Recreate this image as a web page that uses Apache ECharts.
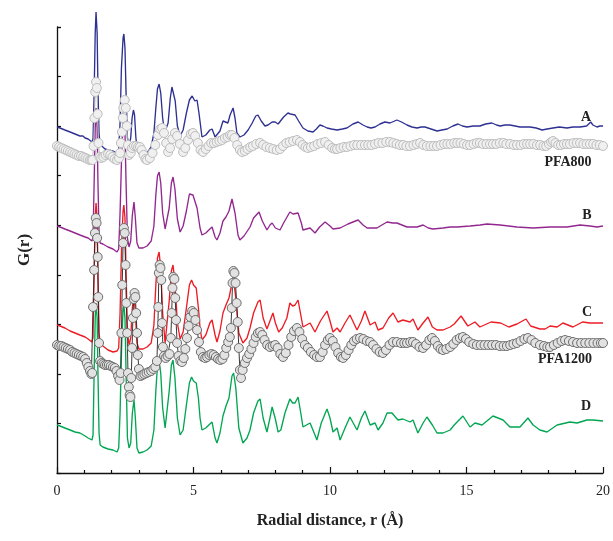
<!DOCTYPE html>
<html>
<head>
<meta charset="utf-8">
<script src="https://cdn.jsdelivr.net/npm/echarts@6/dist/echarts.min.js"></script>
<style>html,body{margin:0;padding:0;background:#fff}#c{width:613px;height:541px}</style>
</head>
<body>
<div id="c"></div>
<script>
// x tick labels
const xTicks = [0, 5, 10, 15, 20];
// Curve labels
const labelNames = ['A', 'PFA800', 'B', 'C', 'PFA1200', 'D'];

// G(r) curves (stacked, arbitrary offset units), pairs [r (Å), G]
const curveA = [[0,346],[0.11,345],[0.29,343],[0.48,341],[0.66,339],[0.84,337],[0.95,337],[1.03,335],[1.14,334],[1.21,332],[1.28,331],[1.32,334],[1.36,380],[1.40,440],[1.43,461],[1.47,440],[1.50,385],[1.54,340],[1.58,328],[1.68,326],[1.76,324],[1.87,323],[1.94,321],[2.05,322],[2.12,321],[2.20,320],[2.26,324],[2.31,350],[2.36,405],[2.42,435],[2.45,439],[2.49,425],[2.53,380],[2.58,335],[2.64,328],[2.70,335],[2.75,355],[2.80,363],[2.84,358],[2.89,335],[2.95,322],[3.04,318],[3.15,318],[3.30,320],[3.45,326],[3.55,340],[3.62,365],[3.68,384],[3.74,389],[3.80,380],[3.87,355],[3.94,340],[3.99,338],[4.07,350],[4.15,375],[4.21,386],[4.26,387],[4.33,372],[4.41,347],[4.51,337],[4.62,343],[4.74,360],[4.85,373],[4.95,377],[5.05,372],[5.13,373],[5.20,360],[5.31,336],[5.45,338],[5.60,343],[5.68,344],[5.79,336],[5.86,335],[5.97,342],[6.08,352],[6.15,353],[6.26,350],[6.34,358],[6.45,365],[6.52,355],[6.59,340],[6.70,336],[6.85,338],[7.00,343],[7.15,350],[7.28,357],[7.36,358],[7.48,352],[7.62,347],[7.73,348],[7.88,351],[7.99,351],[8.10,349],[8.17,350],[8.30,356],[8.46,360],[8.55,359],[8.72,358],[8.85,352],[9.01,345],[9.19,342],[9.38,341],[9.50,344],[9.63,348],[9.74,347],[9.89,345],[10.05,344],[10.26,343],[10.45,344],[10.62,345],[10.84,349],[11.03,351],[11.21,348],[11.36,346],[11.50,345],[11.65,346],[11.83,349],[12.01,351],[12.20,350],[12.45,353],[12.62,351],[12.82,348],[13.00,346],[13.19,345],[13.34,346],[13.48,346],[13.70,344],[13.92,342],[14.10,343],[14.29,344],[14.50,347],[14.69,349],[14.85,347],[15.02,346],[15.25,347],[15.49,347],[15.70,349],[15.93,350],[16.10,348],[16.23,347],[16.41,348],[16.59,348],[16.78,347],[16.96,346],[17.15,346],[17.33,346],[17.55,345],[17.77,343],[17.95,344],[18.17,345],[18.40,346],[18.68,345],[18.90,346],[19.16,346],[19.40,347],[19.55,351],[19.63,348],[19.78,346],[19.89,347],[20.00,347]];

const curveB = [[0,247],[0.11,246],[0.29,244],[0.48,242],[0.66,240],[0.84,238],[1.03,236],[1.14,235],[1.21,233],[1.28,232],[1.32,236],[1.36,290],[1.40,345],[1.43,365],[1.47,345],[1.50,290],[1.54,240],[1.58,230],[1.68,229],[1.87,226],[1.94,225],[2.05,224],[2.20,221],[2.26,224],[2.31,260],[2.37,320],[2.42,350],[2.45,355],[2.49,340],[2.53,290],[2.58,235],[2.64,226],[2.70,232],[2.76,258],[2.82,271],[2.87,255],[2.93,230],[3.00,225],[3.15,225],[3.30,227],[3.45,232],[3.55,247],[3.62,278],[3.68,297],[3.74,301],[3.80,290],[3.87,260],[3.96,244],[4.03,244],[4.11,265],[4.19,290],[4.25,296],[4.32,284],[4.41,254],[4.51,241],[4.62,247],[4.74,262],[4.85,279],[4.91,281],[4.98,278],[5.05,276],[5.13,265],[5.24,245],[5.31,238],[5.45,240],[5.60,244],[5.68,246],[5.79,236],[5.86,233],[5.97,240],[6.08,252],[6.19,256],[6.30,262],[6.41,274],[6.45,274],[6.52,260],[6.63,238],[6.70,233],[6.85,237],[7.07,246],[7.20,255],[7.40,261],[7.52,252],[7.69,243],[7.80,248],[7.88,250],[8.00,245],[8.17,243],[8.30,250],[8.53,261],[8.65,259],[8.83,260],[8.95,250],[9.01,243],[9.27,245],[9.45,240],[9.62,246],[9.82,251],[10.00,247],[10.11,244],[10.37,245],[10.66,249],[10.84,251],[11.03,253],[11.21,248],[11.36,245],[11.72,245],[11.90,248],[12.09,251],[12.30,250],[12.45,250],[12.82,246],[13.19,246],[13.41,248],[13.60,245],[13.77,244],[14.14,245],[14.40,246],[14.65,246],[15.13,247],[15.50,248],[15.75,249],[16.23,248],[16.85,246],[17.44,245],[18.06,246],[18.68,246],[19.16,248],[19.52,247],[19.78,246],[20.00,247]];

const curveC = [[0,148],[0.11,147],[0.29,145],[0.48,142],[0.66,140],[0.84,138],[1.03,136],[1.14,134],[1.21,133],[1.28,131],[1.32,136],[1.36,200],[1.40,255],[1.43,270],[1.47,255],[1.50,200],[1.54,140],[1.58,130],[1.68,127],[1.87,123],[2.05,121],[2.12,121],[2.20,122],[2.26,125],[2.31,160],[2.37,230],[2.42,262],[2.45,268],[2.49,255],[2.53,200],[2.58,140],[2.64,128],[2.70,135],[2.76,165],[2.82,178],[2.87,160],[2.93,130],[3.00,124],[3.15,124],[3.30,126],[3.45,130],[3.55,148],[3.62,188],[3.68,215],[3.74,221],[3.80,205],[3.87,160],[3.96,130],[4.03,128],[4.11,172],[4.19,202],[4.25,208],[4.32,190],[4.41,150],[4.51,134],[4.62,141],[4.74,165],[4.85,188],[4.93,193],[5.00,188],[5.10,185],[5.18,165],[5.24,145],[5.31,133],[5.45,138],[5.60,150],[5.68,153],[5.79,138],[5.86,131],[5.97,142],[6.08,160],[6.19,168],[6.30,175],[6.41,190],[6.47,193],[6.55,175],[6.66,140],[6.81,130],[6.96,135],[7.07,145],[7.20,160],[7.36,171],[7.44,173],[7.55,155],[7.69,144],[7.80,152],[7.91,160],[8.00,150],[8.12,141],[8.25,145],[8.42,155],[8.53,170],[8.63,167],[8.72,168],[8.83,173],[8.93,158],[9.01,146],[9.27,150],[9.45,141],[9.65,152],[9.89,162],[10.00,152],[10.11,141],[10.26,145],[10.37,141],[10.55,150],[10.73,158],[10.99,143],[11.15,152],[11.28,162],[11.47,148],[11.65,151],[11.76,143],[11.94,145],[12.15,155],[12.31,160],[12.49,151],[12.67,153],[12.93,151],[13.04,154],[13.22,143],[13.41,150],[13.59,156],[13.75,146],[13.92,143],[14.14,143],[14.40,146],[14.55,149],[14.80,157],[15.05,147],[15.31,151],[15.49,146],[15.90,151],[16.25,150],[16.55,146],[16.85,149],[17.18,154],[17.35,147],[17.69,144],[17.88,144],[18.06,147],[18.32,146],[18.53,150],[18.90,146],[19.25,151],[19.52,150],[19.70,150],[20.00,150]];

const curveD = [[0,48],[0.11,47],[0.29,45],[0.48,43],[0.66,41],[0.84,40],[1.03,37],[1.14,35],[1.21,34],[1.28,33],[1.32,38],[1.36,100],[1.40,155],[1.43,170],[1.47,155],[1.50,100],[1.54,40],[1.58,28],[1.68,26],[1.87,24],[1.94,23],[2.05,23],[2.12,22],[2.20,21],[2.26,25],[2.31,60],[2.37,130],[2.42,163],[2.45,168],[2.49,155],[2.53,100],[2.58,35],[2.64,25],[2.70,30],[2.76,60],[2.82,73],[2.87,55],[2.93,25],[3.00,20],[3.15,21],[3.30,23],[3.45,27],[3.55,43],[3.62,82],[3.68,107],[3.74,112],[3.80,100],[3.87,65],[3.96,45],[4.03,44],[4.11,82],[4.19,108],[4.25,113],[4.32,95],[4.41,55],[4.51,38],[4.62,43],[4.74,68],[4.85,90],[4.93,96],[5.00,92],[5.10,90],[5.18,75],[5.24,55],[5.31,43],[5.45,45],[5.60,49],[5.68,51],[5.79,35],[5.86,30],[5.97,40],[6.08,57],[6.19,67],[6.30,75],[6.41,97],[6.47,100],[6.55,85],[6.66,45],[6.81,30],[6.96,35],[7.07,43],[7.20,60],[7.36,72],[7.44,74],[7.55,55],[7.69,41],[7.80,55],[7.88,66],[7.99,55],[8.10,41],[8.20,43],[8.35,60],[8.53,74],[8.63,70],[8.72,70],[8.83,76],[8.93,60],[9.01,46],[9.27,50],[9.45,38],[9.52,33],[9.68,50],[9.89,64],[10.00,55],[10.11,41],[10.26,45],[10.37,33],[10.55,45],[10.73,56],[10.99,43],[11.15,55],[11.28,62],[11.47,48],[11.65,50],[11.76,43],[11.94,50],[12.09,60],[12.27,60],[12.49,53],[12.67,54],[12.93,51],[13.04,53],[13.22,40],[13.41,50],[13.55,56],[13.75,48],[13.92,40],[14.14,40],[14.40,43],[14.55,48],[14.87,57],[15.13,46],[15.31,50],[15.57,48],[15.97,57],[16.34,53],[16.59,46],[16.96,46],[17.25,55],[17.44,48],[17.69,43],[17.95,41],[18.32,48],[18.79,51],[19.05,50],[19.41,53],[19.63,53],[20.00,52]];

const pfa800 = [[0,327],[0.08,326],[0.16,325],[0.24,324],[0.32,323],[0.40,322],[0.48,321],[0.56,320],[0.64,319],[0.72,318],[0.80,317],[0.88,317],[0.96,316],[1.04,315],[1.12,314],[1.20,313],[1.26,313],[1.30,313],[1.34,327],[1.37,355],[1.40,381],[1.43,391],[1.46,385],[1.49,359],[1.52,330],[1.56,316],[1.62,315],[1.70,316],[1.78,318],[1.87,319],[1.95,318],[2.03,316],[2.11,314],[2.20,313],[2.27,315],[2.31,320],[2.34,330],[2.38,341],[2.41,355],[2.43,365],[2.48,373],[2.52,365],[2.56,347],[2.60,328],[2.64,318],[2.70,320],[2.75,325],[2.82,327],[2.90,327],[2.97,326],[3.04,326],[3.10,323],[3.17,318],[3.24,314],[3.30,313],[3.40,315],[3.50,320],[3.60,328],[3.70,338],[3.78,344],[3.85,345],[3.92,340],[4.00,330],[4.07,321],[4.14,325],[4.22,334],[4.32,340],[4.40,337],[4.50,329],[4.62,321],[4.70,325],[4.80,333],[4.90,339],[4.98,340],[5.06,337],[5.16,330],[5.26,323],[5.35,321],[5.45,324],[5.55,327],[5.65,330],[5.75,330],[5.85,331],[5.95,332],[6.05,333],[6.15,335],[6.25,336],[6.34,338],[6.41,338],[6.50,335],[6.60,328],[6.70,323],[6.78,321],[6.88,322],[6.98,324],[7.08,326],[7.18,327],[7.30,329],[7.44,330],[7.55,328],[7.67,326],[7.80,325],[7.92,324],[8.05,323],[8.17,324],[8.28,327],[8.40,330],[8.52,331],[8.65,332],[8.79,333],[8.90,331],[9.00,328],[9.10,326],[9.19,325],[9.30,326],[9.42,327],[9.55,329],[9.68,330],[9.82,331],[9.95,328],[10.08,325],[10.18,324],[10.26,324],[10.38,325],[10.50,326],[10.62,326],[10.75,327],[10.88,328],[11.00,328],[11.14,328],[11.28,328],[11.40,328],[11.52,328],[11.65,329],[11.78,330],[11.92,330],[12.06,331],[12.20,331],[12.32,330],[12.44,329],[12.56,328],[12.68,328],[12.80,327],[12.93,327],[13.06,328],[13.18,329],[13.30,330],[13.42,328],[13.55,327],[13.68,327],[13.80,327],[13.92,327],[14.05,328],[14.18,329],[14.30,329],[14.42,329],[14.55,330],[14.66,330],[14.78,330],[14.90,329],[15.02,328],[15.13,328],[15.26,329],[15.38,330],[15.49,330],[15.60,329],[15.73,329],[15.86,329],[15.97,329],[16.09,329],[16.22,330],[16.35,330],[16.46,329],[16.60,329],[16.73,328],[16.85,328],[16.98,328],[17.10,329],[17.22,329],[17.33,329],[17.45,329],[17.58,328],[17.70,328],[17.82,327],[17.92,327],[18.02,329],[18.10,331],[18.17,332],[18.26,330],[18.36,328],[18.46,328],[18.57,329],[18.68,329],[18.79,329],[18.92,330],[19.04,330],[19.16,330],[19.28,329],[19.40,329],[19.52,329],[19.64,329],[19.76,328],[19.88,328],[20.00,327]];

const pfa1200 = [[0,128],[0.08,127],[0.16,127],[0.24,126],[0.32,125],[0.40,124],[0.48,123],[0.56,121],[0.64,120],[0.72,119],[0.80,118],[0.88,117],[0.96,116],[1.03,114],[1.09,110],[1.15,106],[1.21,102],[1.26,99],[1.29,100],[1.32,166],[1.36,203],[1.39,240],[1.42,255],[1.45,250],[1.47,235],[1.49,216],[1.51,176],[1.54,130],[1.58,112],[1.64,110],[1.70,109],[1.76,108],[1.83,108],[1.90,108],[1.97,107],[2.05,106],[2.12,105],[2.18,102],[2.24,97],[2.29,93],[2.33,100],[2.36,140],[2.39,188],[2.42,230],[2.45,245],[2.48,240],[2.51,208],[2.54,170],[2.57,140],[2.60,100],[2.63,86],[2.66,78],[2.69,76],[2.72,95],[2.75,125],[2.78,155],[2.81,174],[2.84,180],[2.87,176],[2.90,160],[2.93,140],[2.96,118],[3.00,104],[3.06,97],[3.13,98],[3.20,99],[3.28,100],[3.36,101],[3.45,102],[3.53,104],[3.60,106],[3.66,112],[3.69,140],[3.71,166],[3.73,200],[3.76,208],[3.79,205],[3.82,193],[3.85,150],[3.88,126],[3.92,117],[3.98,115],[4.05,117],[4.12,119],[4.17,135],[4.20,160],[4.23,185],[4.26,196],[4.30,194],[4.33,175],[4.36,153],[4.40,130],[4.45,117],[4.52,112],[4.58,111],[4.64,115],[4.70,124],[4.76,135],[4.82,147],[4.88,156],[4.95,162],[5.01,160],[5.07,153],[5.13,143],[5.20,131],[5.27,121],[5.35,116],[5.43,115],[5.50,116],[5.58,118],[5.66,119],[5.74,118],[5.82,116],[5.90,114],[5.98,113],[6.06,114],[6.13,118],[6.20,125],[6.27,131],[6.33,136],[6.37,145],[6.40,165],[6.43,190],[6.46,202],[6.50,200],[6.54,190],[6.58,170],[6.62,151],[6.66,125],[6.70,103],[6.74,95],[6.80,103],[6.88,110],[6.96,115],[7.04,119],[7.12,124],[7.20,130],[7.28,136],[7.36,140],[7.44,141],[7.52,138],[7.60,133],[7.70,128],[7.80,126],[7.90,127],[7.99,128],[8.08,125],[8.18,119],[8.28,116],[8.38,120],[8.48,128],[8.58,136],[8.68,142],[8.79,145],[8.88,141],[8.98,134],[9.08,128],[9.19,125],[9.30,121],[9.42,118],[9.52,116],[9.63,116],[9.73,121],[9.82,128],[9.92,133],[10.00,135],[10.10,132],[10.20,126],[10.30,120],[10.40,116],[10.48,115],[10.58,118],[10.68,123],[10.78,128],[10.88,132],[10.98,134],[11.10,135],[11.22,134],[11.35,132],[11.47,131],[11.58,128],[11.70,124],[11.82,121],[11.94,120],[12.05,123],[12.18,128],[12.31,131],[12.45,131],[12.60,130],[12.72,130],[12.82,130],[12.94,131],[13.04,131],[13.15,129],[13.28,126],[13.41,125],[13.52,128],[13.64,133],[13.74,135],[13.84,132],[13.95,127],[14.05,124],[14.14,123],[14.26,124],[14.40,126],[14.52,129],[14.64,133],[14.76,135],[14.87,136],[14.98,134],[15.10,131],[15.25,129],[15.38,128],[15.52,128],[15.66,128],[15.80,128],[15.94,128],[16.08,128],[16.22,127],[16.36,127],[16.48,127],[16.60,128],[16.72,129],[16.85,130],[16.98,132],[17.12,134],[17.25,135],[17.38,133],[17.52,130],[17.69,128],[17.84,127],[17.96,126],[18.06,126],[18.20,128],[18.34,130],[18.48,132],[18.61,133],[18.75,132],[18.90,131],[19.05,130],[19.20,130],[19.35,130],[19.50,130],[19.65,130],[19.80,130],[19.92,130],[20.00,130]];

const serif = '"Liberation Serif", "Times New Roman", serif';
const chart = echarts.init(document.getElementById('c'), null, {renderer: 'canvas'});

function lineSeries(name, data, color) {
  return {name, type: 'line', data, showSymbol: false, clip: false, smooth: false,
    lineStyle: {color, width: 1.35}, z: 2};
}
function pfaSeries(name, data, fill, border, lineColor, z) {
  return {name, type: 'line', data, clip: false, symbol: 'circle', symbolSize: 9,
    showSymbol: true, showAllSymbol: true,
    itemStyle: {color: fill, borderColor: border, borderWidth: 1},
    lineStyle: {color: lineColor, width: 0.9}, z};
}

const labelPos = [[586,117],[568,162],[587,215],[587,312],[565,359],[586,406]];

chart.setOption({
  animation: false,
  backgroundColor: '#ffffff',
  grid: {left: 57, right: 10, top: 27, bottom: 68, containLabel: false},
  xAxis: {
    type: 'value', min: 0, max: 20, interval: 5,
    name: 'Radial distance, r (Å)', nameLocation: 'middle', nameGap: 40,
    nameTextStyle: {fontFamily: serif, fontWeight: 'bold', fontSize: 16, color: '#222'},
    axisLine: {show: true, onZero: false, lineStyle: {color: '#111', width: 1.3}},
    axisTick: {show: true, inside: true, length: 6, lineStyle: {color: '#111', width: 1.2}},
    minorTick: {show: true, splitNumber: 5, length: 3, lineStyle: {color: '#111', width: 1.2}},
    axisLabel: {fontFamily: serif, fontSize: 14, color: '#222', margin: 11,
      formatter: v => xTicks.includes(v) ? String(v) : ''},
    splitLine: {show: false}
  },
  yAxis: {
    type: 'value', min: 0, max: 446, interval: 446 / 9,
    name: 'G(r)', nameLocation: 'middle', nameGap: 24, nameRotate: 90,
    nameTextStyle: {fontFamily: serif, fontWeight: 'bold', fontSize: 17, color: '#222'},
    axisLine: {show: true, lineStyle: {color: '#111', width: 1.3}},
    axisTick: {show: true, inside: true, length: 4, lineStyle: {color: '#111', width: 1.2}},
    axisLabel: {show: false},
    splitLine: {show: false}
  },
  series: [
    lineSeries('A', curveA, '#2e3192'),
    lineSeries('B', curveB, '#92278f'),
    lineSeries('C', curveC, '#ed1c24'),
    lineSeries('D', curveD, '#00a651'),
    pfaSeries('PFA800', pfa800, '#f0f0f0', '#bdbdbd', '#b0b0b0', 3),
    pfaSeries('PFA1200', pfa1200, '#e2e2e2', '#6e6e6e', '#222222', 4)
  ],
  graphic: labelNames.map((t, i) => ({
    type: 'text', x: labelPos[i][0], y: labelPos[i][1],
    style: {text: t, fontFamily: serif, fontWeight: 'bold', fontSize: 14, fill: '#222',
      textAlign: 'center', textVerticalAlign: 'middle'}, z: 10
  }))
});
</script>
</body>
</html>
